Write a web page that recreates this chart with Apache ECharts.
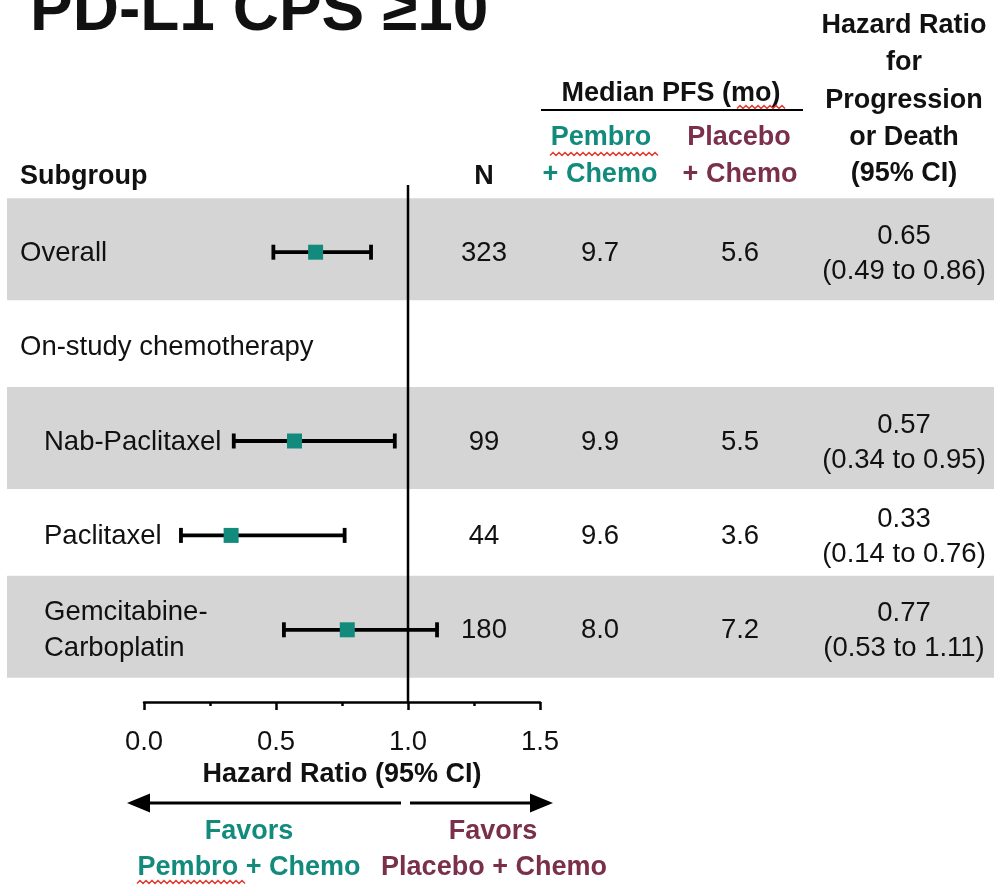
<!DOCTYPE html>
<html><head><meta charset="utf-8">
<script src="https://cdn.jsdelivr.net/npm/echarts@6/dist/echarts.min.js"></script>
<style>html,body{margin:0;padding:0;background:#fff}#c{width:994px;height:887px}</style>
</head><body><div id="c"></div><script>
// ---- data ----
const subgroups = ['Overall', 'On-study chemotherapy', 'Nab-Paclitaxel', 'Paclitaxel', 'Gemcitabine-\nCarboplatin'];
const levels = [0, 0, 1, 1, 1];
const nPatients = [323, null, 99, 44, 180];
const pfsPembro = [9.7, null, 9.9, 9.6, 8.0];
const pfsPlacebo = [5.6, null, 5.5, 3.6, 7.2];
const hr = [0.65, null, 0.57, 0.33, 0.77];
const hrLow = [0.49, null, 0.34, 0.14, 0.53];
const hrHigh = [0.86, null, 0.95, 0.76, 1.11];
const xTicks = [0.0, 0.5, 1.0, 1.5];
const refValue = 1.0;

// ---- style ----
const FONT = '"Liberation Sans", Arial, Helvetica, sans-serif';
const TEAL = '#128a7c', PURPLE = '#7a2f4b', INK = '#111', BAND = '#d5d5d5', SQUIG = '#e23b2e';
const F = 27.5, FB = 27;

const chart = echarts.init(document.getElementById('c'), null, {renderer: 'canvas'});
const idx = subgroups.map((s, i) => i);

function txt(text, x, y, opts) {
  opts = opts || {};
  return {type: 'text', x: 0, y: 0, silent: true, z: 50, style: {
    text: text, x: x, y: y, fill: opts.color || INK,
    font: (opts.bold ? 'bold ' : '') + (opts.size || (opts.bold ? FB : F)) + 'px ' + FONT,
    align: opts.align || 'center', verticalAlign: 'middle'}};
}
function squiggle(x1, x2, y) {
  const pts = [];
  let k = 0;
  for (let x = x1; x <= x2; x += 3, k++) pts.push([x, y + (k % 2 ? -1.5 : 1.5)]);
  return {type: 'polyline', silent: true, z: 60, shape: {points: pts}, style: {stroke: SQUIG, lineWidth: 1.5, fill: null}};
}

const option = {
  animation: false,
  backgroundColor: '#fff',
  grid: {left: 144, width: 396, top: 205, height: 472, outerBoundsMode: 'none', containLabel: false},
  xAxis: {
    type: 'value', min: xTicks[0], max: xTicks[xTicks.length - 1], interval: 0.5, offset: 25,
    axisLine: {show: true, lineStyle: {color: '#000', width: 2.5}},
    axisTick: {show: true, length: 8, lineStyle: {color: '#000', width: 2.5}},
    minorTick: {show: true, splitNumber: 2, length: 4, lineStyle: {color: '#000', width: 2.5}},
    splitLine: {show: false}, minorSplitLine: {show: false},
    axisLabel: {fontSize: F, color: INK, fontFamily: FONT, margin: 26, formatter: v => v.toFixed(1)},
    name: 'Hazard Ratio (95% CI)', nameLocation: 'middle', nameGap: 58,
    nameTextStyle: {fontSize: FB, fontWeight: 'bold', color: INK, fontFamily: FONT}
  },
  yAxis: {type: 'category', data: subgroups, inverse: true, show: false},
  series: [
    { // shaded bands
      type: 'custom', z: 1, clip: false,
      data: idx.filter(i => i % 2 === 0).map(i => [0, i]),
      encode: {x: 0, y: 1},
      renderItem: (p, api) => {
        const y = api.coord([0, api.value(1)])[1];
        return {type: 'rect', shape: {x: 7, y: y - 54, width: 987, height: 102}, style: {fill: BAND}};
      }
    },
    { // reference line at HR = 1
      type: 'custom', z: 3, clip: false,
      data: [[refValue, 0]], encode: {x: 0, y: 1},
      renderItem: (p, api) => {
        const x = api.coord([api.value(0), 0])[0];
        return {type: 'line', shape: {x1: x, y1: 185, x2: x, y2: 702}, style: {stroke: '#000', lineWidth: 2.5}};
      }
    },
    { // forest plot CIs and point estimates
      type: 'custom', z: 5, clip: false,
      data: idx.filter(i => hr[i] != null).map(i => [hr[i], i, hrLow[i], hrHigh[i]]),
      encode: {x: [0, 2, 3], y: 1},
      renderItem: (p, api) => {
        const c = api.coord([api.value(0), api.value(1)]);
        const l = api.coord([api.value(2), api.value(1)])[0];
        const h = api.coord([api.value(3), api.value(1)])[0];
        const y = c[1];
        const st = {stroke: '#000', lineWidth: 3.8};
        return {type: 'group', children: [
          {type: 'line', shape: {x1: l, y1: y, x2: h, y2: y}, style: st},
          {type: 'line', shape: {x1: l, y1: y - 7.5, x2: l, y2: y + 7.5}, style: st},
          {type: 'line', shape: {x1: h, y1: y - 7.5, x2: h, y2: y + 7.5}, style: st},
          {type: 'rect', shape: {x: c[0] - 7.5, y: y - 7.5, width: 15, height: 15}, style: {fill: TEAL}}
        ]};
      }
    },
    { // subgroup labels
      type: 'custom', z: 6, clip: false,
      data: idx.map(i => [0, i]), encode: {x: 0, y: 1},
      renderItem: (p, api) => {
        const i = api.value(1);
        const y = api.coord([0, i])[1];
        return {type: 'text', style: {text: subgroups[i], x: levels[i] ? 44 : 20, y: y + 1,
          font: F + 'px ' + FONT, fill: INK, align: 'left', verticalAlign: 'middle', lineHeight: 36}};
      }
    },
    { // table values
      type: 'custom', z: 6, clip: false,
      data: idx.filter(i => nPatients[i] != null).map(i => [0, i]), encode: {x: 0, y: 1},
      renderItem: (p, api) => {
        const i = api.value(1);
        const y = api.coord([0, i])[1];
        const mk = (t, x, yy) => ({type: 'text', style: {text: t, x: x, y: yy, font: F + 'px ' + FONT,
          fill: INK, align: 'center', verticalAlign: 'middle'}});
        return {type: 'group', children: [
          mk(String(nPatients[i]), 484, y + 1),
          mk(pfsPembro[i].toFixed(1), 600, y + 1),
          mk(pfsPlacebo[i].toFixed(1), 740, y + 1),
          mk(hr[i].toFixed(2), 904, y - 16),
          mk('(' + hrLow[i].toFixed(2) + ' to ' + hrHigh[i].toFixed(2) + ')', 904, y + 19)
        ]};
      }
    }
  ],
  graphic: [
    txt('PD-L1 CPS \u226510', 30, 12, {bold: true, size: 64, align: 'left'}),
    txt('Subgroup', 20, 177, {bold: true, align: 'left'}),
    txt('N', 484, 177, {bold: true}),
    txt('Median PFS (mo)', 671, 94, {bold: true}),
    {type: 'line', silent: true, shape: {x1: 541, y1: 110, x2: 803, y2: 110}, style: {stroke: '#000', lineWidth: 2}},
    txt('Pembro', 601, 138, {bold: true, color: TEAL}),
    txt('+ Chemo', 600, 175, {bold: true, color: TEAL}),
    txt('Placebo', 739, 138, {bold: true, color: PURPLE}),
    txt('+ Chemo', 740, 175, {bold: true, color: PURPLE}),
    txt('Hazard Ratio', 904, 26, {bold: true}),
    txt('for', 904, 63, {bold: true}),
    txt('Progression', 904, 101, {bold: true}),
    txt('or Death', 904, 138, {bold: true}),
    txt('(95% CI)', 904, 174, {bold: true}),
    squiggle(737, 785, 107),
    squiggle(550, 660, 154),
    squiggle(137, 247, 882),
    {type: 'line', silent: true, shape: {x1: 140, y1: 803, x2: 401, y2: 803}, style: {stroke: '#000', lineWidth: 3}},
    {type: 'polygon', silent: true, shape: {points: [[127, 803], [150, 793.5], [150, 812.5]]}, style: {fill: '#000'}},
    {type: 'line', silent: true, shape: {x1: 410, y1: 803, x2: 540, y2: 803}, style: {stroke: '#000', lineWidth: 3}},
    {type: 'polygon', silent: true, shape: {points: [[553, 803], [530, 793.5], [530, 812.5]]}, style: {fill: '#000'}},
    txt('Favors', 249, 832, {bold: true, color: TEAL}),
    txt('Pembro + Chemo', 249, 868, {bold: true, color: TEAL}),
    txt('Favors', 493, 832, {bold: true, color: PURPLE}),
    txt('Placebo + Chemo', 494, 868, {bold: true, color: PURPLE})
  ]
};
chart.setOption(option);
</script></body></html>
